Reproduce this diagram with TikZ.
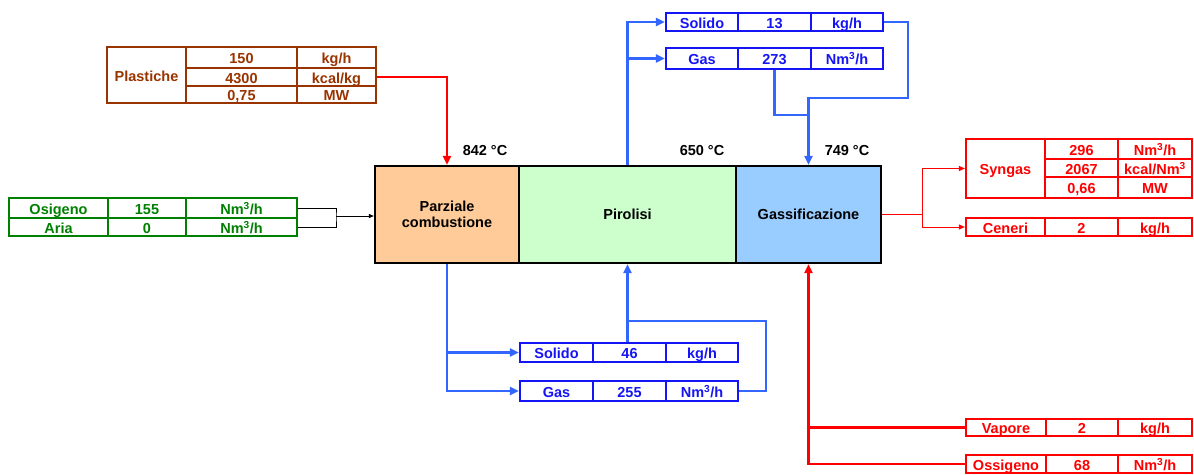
\documentclass[tikz,border=0pt]{standalone}
\usepackage{fontspec}
\setmainfont{Liberation Sans}
\usetikzlibrary{arrows.meta}
\definecolor{plastbrown}{RGB}{153,51,0}
\definecolor{airgreen}{RGB}{0,128,0}
\definecolor{tabblue}{RGB}{20,20,245}
\definecolor{flowblue}{RGB}{51,102,255}
\definecolor{flowred}{RGB}{255,0,0}
\definecolor{pzfill}{RGB}{255,204,153}
\definecolor{pirfill}{RGB}{204,255,204}
\definecolor{gasfill}{RGB}{153,204,255}
\tikzset{
  txt/.style={font=\fontsize{14.5}{16}\selectfont\bfseries},
  cell/.style={draw, rectangle, inner sep=0pt, line width=2.2pt, txt, text height=13.5pt, text depth=1pt},
  sz/.style 2 args={minimum width=#1pt, minimum height=#2pt},
  pcell/.style={cell, draw=plastbrown, text=plastbrown},
  acell/.style={cell, draw=airgreen, text=airgreen},
  bcell/.style={cell, draw=tabblue, text=tabblue},
  rcell/.style={cell, draw=flowred, text=flowred},
  stage/.style={draw=black, line width=2.2pt, inner sep=0pt, align=center, txt},
  tip/.style={-{Triangle[length=9pt,width=8pt]}},
  smalltip/.style={-{Triangle[length=6pt,width=5pt]}},
  blueflow/.style={draw=flowblue, line width=2.2pt},
  redflow/.style={draw=flowred, line width=2.2pt},
  thinred/.style={draw=flowred, line width=1pt},
}
\begin{document}
\begin{tikzpicture}[x=1pt, y=-1pt]
    \useasboundingbox (0,0) rectangle (1194,474);

    % reattore
    \node[stage, fill=pzfill, sz={144}{97}] (pz) at (447,214.5) {Parziale\\combustione};
    \node[stage, fill=pirfill, sz={217}{97}] (pir) at (627.5,214.5) {Pirolisi};
    \node[stage, fill=gasfill, sz={145}{97}] (gas) at (808.5,214.5) {Gassificazione};
    \node[txt] (t1) at (485,151) {842 °C};
    \node[txt] (t2) at (702,151) {650 °C};
    \node[txt] (t3) at (847,151) {749 °C};

    % plastiche
    \node[pcell, sz={79}{56}] (plast) at (146.5,75) {Plastiche};
    \node[pcell, sz={111}{21}] (p1v) at (241.5,57.5) {150};
    \node[pcell, sz={79}{21}] (p1u) at (336.5,57.5) {kg/h};
    \node[pcell, sz={111}{18}] (p2v) at (241.5,77) {4300};
    \node[pcell, sz={79}{18}] (p2u) at (336.5,77) {kcal/kg};
    \node[pcell, sz={111}{17}] (p3v) at (241.5,94.5) {0,75};
    \node[pcell, sz={79}{17}] (p3u) at (336.5,94.5) {MW};

    % aria / ossigeno
    \node[acell, sz={99}{20}] (o1l) at (58.5,208) {Osigeno};
    \node[acell, sz={78}{20}] (o1v) at (147,208) {155};
    \node[acell, sz={111}{20}] (o1u) at (241.5,208) {Nm\textsuperscript{3}/h};
    \node[acell, sz={99}{18}] (o2l) at (58.5,227) {Aria};
    \node[acell, sz={78}{18}] (o2v) at (147,227) {0};
    \node[acell, sz={111}{18}] (o2u) at (241.5,227) {Nm\textsuperscript{3}/h};

    % uscite pirolisi (alto)
    \node[bcell, sz={72}{18}] (s13l) at (702,22) {Solido};
    \node[bcell, sz={73}{18}] (s13v) at (774.5,22) {13};
    \node[bcell, sz={72}{18}] (s13u) at (847,22) {kg/h};
    \node[bcell, sz={72}{21}] (g273l) at (702,58.5) {Gas};
    \node[bcell, sz={73}{21}] (g273v) at (774.5,58.5) {273};
    \node[bcell, sz={72}{21}] (g273u) at (847,58.5) {Nm\textsuperscript{3}/h};

    % uscite combustione (basso)
    \node[bcell, sz={73}{19}] (s46l) at (556.5,352.5) {Solido};
    \node[bcell, sz={73}{19}] (s46v) at (629.5,352.5) {46};
    \node[bcell, sz={72}{19}] (s46u) at (702,352.5) {kg/h};
    \node[bcell, sz={73}{20}] (g255l) at (556.5,391) {Gas};
    \node[bcell, sz={73}{20}] (g255v) at (629.5,391) {255};
    \node[bcell, sz={72}{20}] (g255u) at (702,391) {Nm\textsuperscript{3}/h};

    % syngas / ceneri
    \node[rcell, sz={79}{59}] (syn) at (1005.5,168.5) {Syngas};
    \node[rcell, sz={73}{20}] (sy1v) at (1081.5,149) {296};
    \node[rcell, sz={74}{20}] (sy1u) at (1155,149) {Nm\textsuperscript{3}/h};
    \node[rcell, sz={73}{18}] (sy2v) at (1081.5,168) {2067};
    \node[rcell, sz={74}{18}] (sy2u) at (1155,168) {kcal/Nm\textsuperscript{3}};
    \node[rcell, sz={73}{21}] (sy3v) at (1081.5,187.5) {0,66};
    \node[rcell, sz={74}{21}] (sy3u) at (1155,187.5) {MW};
    \node[rcell, sz={79}{18}] (cenl) at (1005.5,227) {Ceneri};
    \node[rcell, sz={73}{18}] (cenv) at (1081.5,227) {2};
    \node[rcell, sz={74}{18}] (cenu) at (1155,227) {kg/h};

    % vapore / ossigeno
    \node[rcell, sz={80}{17}] (vapl) at (1006,427.5) {Vapore};
    \node[rcell, sz={72}{17}] (vapv) at (1082,427.5) {2};
    \node[rcell, sz={74}{17}] (vapu) at (1155,427.5) {kg/h};
    \node[rcell, sz={80}{18}] (ossl) at (1006,464) {Ossigeno};
    \node[rcell, sz={72}{18}] (ossv) at (1082,464) {68};
    \node[rcell, sz={74}{18}] (ossu) at (1155,464) {Nm\textsuperscript{3}/h};

    % collegamenti
    \coordinate (oj) at (336,216);
    \coordinate (tr) at (908,98);
    \coordinate (br) at (766,321);
    \coordinate (rj) at (922,214.5);

    \draw[redflow, tip] (p2u.east) -| (pz.north);
    \draw[line width=1pt] (o1u.east) -| (oj) |- (o2u.east);
    \draw[line width=1pt, -{Triangle[length=5pt,width=4pt]}] (oj) -- (oj -| pz.west);

    \draw[blueflow, tip] (pir.north) |- (s13l.west);
    \draw[blueflow, tip] (pir.north |- g273l.west) -- (g273l.west);
    \draw[blueflow, tip] (s13u.east) -| (tr) -| (gas.north);
    \draw[blueflow] (g273v.south) |- ([yshift=50pt]gas.north);

    \draw[blueflow, tip] (pz.south) |- (g255l.west);
    \draw[blueflow, tip] (pz.south |- s46l.west) -- (s46l.west);
    \draw[blueflow, tip] (pir.south |- s46v.north) -- (pir.south);
    \draw[blueflow] (g255u.east) -| (br) -- (br -| pir.south);

    \draw[thinred] (gas.east) -- (rj);
    \draw[thinred, smalltip] (rj) |- (syn.west);
    \draw[thinred, smalltip] (rj) |- (cenl.west);

    \draw[redflow, tip] (vapl.west) -| (gas.south);
    \draw[redflow] (ossl.west) -| (gas.south |- vapl.west);
\end{tikzpicture}
\end{document}
